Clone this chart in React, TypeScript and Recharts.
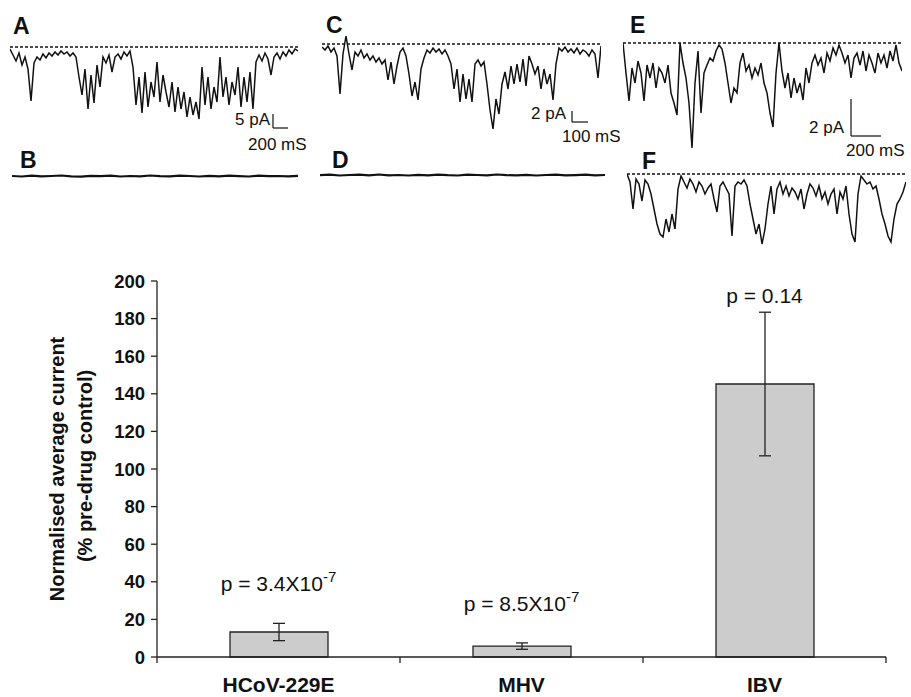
import { LineChart, Line, XAxis, YAxis, ReferenceLine, BarChart, Bar, ErrorBar, ReferenceDot } from "recharts"

const FONT = "'Liberation Sans', Arial, Helvetica, sans-serif"
const INK = "#111"

// single-channel traces: depth of the current below the closed level (dashed line)
const traceA = [
  2, 8, 14, 6, 18, 10, 22, 54, 16, 10, 13, 7, 11, 6, 9, 5, 8, 4, 7, 5, 9, 6, 10, 30, 48, 22, 62, 28, 56, 18,
  40, 10, 16, 8, 25, 10, 7, 12, 5, 9, 4, 20, 58, 30, 66, 25, 60, 35, 50, 15, 55, 28, 45, 60, 35, 65, 40, 62, 45, 70,
  50, 68, 55, 72, 20, 58, 30, 62, 40, 55, 10, 50, 30, 58, 35, 48, 20, 60, 30, 55, 25, 62, 15, 8, 14, 6, 12, 28, 10, 6,
  12, 5, 9, 3, 7, 2, 4,
]
const traceB = [
  0, 0.5, -0.3, 0.4, 0, -0.5, 0.3, 0.6, -0.2, 0.1, -0.4, 0.5, 0, 0.3, -0.5, 0.2, 0.4, -0.3, 0, 0.5, -0.2, 0.3, -0.4,
  0.1, 0.5, -0.3, 0.2, 0, 0.4, -0.2,
]
const traceC = [
  3, 6, 2, 8, 4, 12, 50, 10, -8, 10, 26, 8, 12, 6, 14, 10, 16, 12, 18, 14, 20, 16, 36, 18, 40, 22, 8, 4, 12, 30,
  52, 38, 56, 25, 14, 6, 9, 4, 8, 5, 10, 6, 12, 20, 45, 25, 58, 30, 55, 35, 58, 20, 16, 22, 18, 40, 66, 85, 55, 70,
  40, 28, 45, 22, 40, 20, 38, 15, 42, 12, 20, 30, 22, 45, 25, 40, 30, 56, 20, 4, 7, 3, 8, 5, 9, 4, 10, 6, 8, 12,
  6, 10, 34, 2,
]
const traceD = [
  0.2, -0.4, 0.5, 0, -0.3, 0.4, -0.5, 0.3, 0, 0.5, -0.2, 0.3, -0.4, 0.2, 0.5, -0.3, 0, 0.4, -0.5, 0.2, 0.3, -0.2,
  0.5, 0, -0.4, 0.3, 0.1, -0.3, 0.4, 0,
]
const traceE = [
  0, 30, 58, 25, 40, 18, 30, 58, 22, 35, 20, 45, 25, 30, 40, 22, 50, 60, 72, 0, 20, 35, 60, 105, 40, 8, 70, 30, 22, 15,
  18, 8, 2, 6, 20, 40, 60, 45, 50, 20, 10, 28, 22, 35, 25, 32, 20, 40, 50, 70, 84, 30, 0, 28, 45, 30, 55, 35, 50, 40,
  57, 25, 40, 20, 12, 22, 15, 30, 10, 18, 5, 12, 2, 10, 20, 12, 35, 15, 10, 22, 8, 28, 12, 20, 30, 10, 20, 12, 25, 8,
  18, 2, 20, 28,
]
const traceF = [
  0, 8, 35, 5, 10, 27, 6, 10, 20, 35, 50, 60, 63, 45, 58, 40, 55, 15, 2, 8, 14, 5, 10, 18, 8, 12, 20, 14, 10, 25,
  38, 12, 8, 14, 20, 62, 12, 8, 10, 6, 12, 30, 45, 60, 50, 70, 55, 30, 12, 40, 15, 8, 20, 12, 22, 14, 18, 25, 15, 35,
  20, 10, 14, 22, 12, 25, 18, 30, 20, 15, 40, 18, 25, 12, 40, 60, 68, 20, 2, 6, 10, 8, 15, 12, 25, 40, 50, 62, 68, 45,
  30, 25, 18, 8,
]

// bar chart
const categories = ["HCoV-229E", "MHV", "IBV"]
const meanCurrent = [13.3, 5.8, 145.2]
const semCurrent = [4.6, 1.7, 38.2]
const pMantissa = ["p = 3.4X10", "p = 8.5X10", "p = 0.14"]
const pExponent = ["-7", "-7", ""]
const yTicks = [0, 20, 40, 60, 80, 100, 120, 140, 160, 180, 200]

// where the p labels sit (in y-axis units)
const pLabelAt = [35, 24.5, 188.3]

const barData = categories.map((name, i) => ({ name, mean: meanCurrent[i], sem: semCurrent[i] }))

const PLOT_LEFT = 157
const PLOT_RIGHT = 25
const BAND = (911 - PLOT_LEFT - PLOT_RIGHT) / categories.length

function Trace({ values, left, top, width, lo, hi, dashed = true, thick = 1.5 }: any) {
  const data = values.map((v: number, i: number) => ({ t: i, v }))
  return (
    <div style={{ position: "absolute", left, top }}>
      <LineChart width={width} height={hi - lo} data={data} margin={{ top: 0, right: 0, bottom: 0, left: 0 }}>
        <XAxis dataKey="t" type="number" domain={[0, values.length - 1]} hide />
        <YAxis type="number" domain={[lo, hi]} reversed hide allowDataOverflow />
        {dashed && <ReferenceLine y={0} stroke={INK} strokeDasharray="3 2" strokeWidth={1.6} />}
        <Line dataKey="v" type="linear" stroke={INK} strokeWidth={thick} dot={false} isAnimationActive={false} />
      </LineChart>
    </div>
  )
}

function ScaleBar({ x, y, h, w, amp, time, ampX, timeX, timeY }: any) {
  return (
    <g>
      <line x1={x} x2={x} y1={y - h} y2={y} stroke={INK} strokeWidth={1.2} />
      <line x1={x} x2={x + w} y1={y} y2={y} stroke={INK} strokeWidth={1.2} />
      <text x={ampX} y={y - 3} textAnchor="end" fontSize={17}>{amp}</text>
      <text x={timeX} y={timeY} fontSize={17}>{time}</text>
    </g>
  )
}

function CatTick({ x, y, payload, index }: any) {
  const axisY = y - 8
  return (
    <g>
      {index === 0 && (
        <line x1={x - BAND / 2} x2={x - BAND / 2} y1={axisY} y2={axisY + 6} stroke="#222" strokeWidth={1.3} />
      )}
      <line x1={x + BAND / 2} x2={x + BAND / 2} y1={axisY} y2={axisY + 6} stroke="#222" strokeWidth={1.3} />
      <text x={x} y={axisY + 35} textAnchor="middle" fontSize={21} fontWeight="bold" fill={INK} fontFamily={FONT}>
        {payload.value}
      </text>
    </g>
  )
}

function YTitle({ viewBox }: any) {
  const cy = viewBox.y + viewBox.height / 2
  return (
    <g fontFamily={FONT} fontWeight="bold" fontSize={20} fill={INK}>
      <text x={64} y={cy} textAnchor="middle" transform={`rotate(-90 64 ${cy})`}>Normalised average current</text>
      <text x={92} y={cy - 3} textAnchor="middle" transform={`rotate(-90 92 ${cy - 3})`}>(% pre-drug control)</text>
    </g>
  )
}

export default function App() {
  return (
    <div style={{ position: "absolute", left: 0, top: 0, width: 911, height: 697, background: "#fff", fontFamily: FONT }}>
      <Trace values={traceA} left={10} top={43} width={288} lo={-4} hi={76} />
      <Trace values={traceB} left={12} top={172} width={286} lo={-4} hi={4} dashed={false} thick={2.2} />
      <Trace values={traceC} left={322} top={34} width={279} lo={-10} hi={90} />
      <Trace values={traceD} left={320} top={171} width={285} lo={-4} hi={4} dashed={false} thick={2.2} />
      <Trace values={traceE} left={623} top={40} width={279} lo={-3} hi={110} />
      <Trace values={traceF} left={627} top={171} width={279} lo={-3} hi={75} />

      <svg width={911} height={250} style={{ position: "absolute", left: 0, top: 0 }} fontFamily={FONT} fill={INK}>
        <g fontSize={23} fontWeight="bold">
          <text x={13} y={34}>A</text>
          <text x={20} y={168}>B</text>
          <text x={326} y={33}>C</text>
          <text x={332} y={168}>D</text>
          <text x={630} y={33}>E</text>
          <text x={642} y={169}>F</text>
        </g>
        <ScaleBar x={273} y={128} h={14} w={15} amp="5 pA" time="200 mS" ampX={270} timeX={248} timeY={150} />
        <ScaleBar x={572} y={122} h={11} w={16} amp="2 pA" time="100 mS" ampX={566} timeX={562} timeY={142} />
        <ScaleBar x={851} y={136} h={37} w={30} amp="2 pA" time="200 mS" ampX={844} timeX={846} timeY={156} />
      </svg>

      <div style={{ position: "absolute", left: 0, top: 250 }}>
        <BarChart width={911} height={447} data={barData} margin={{ top: 31, right: PLOT_RIGHT, bottom: 10, left: 97 }}>
          <XAxis
            dataKey="name"
            height={30}
            interval={0}
            tickLine={false}
            tickSize={6}
            tickMargin={2}
            axisLine={{ stroke: "#222", strokeWidth: 1.3 }}
            tick={<CatTick />}
          />
          <YAxis
            width={60}
            domain={[0, 200]}
            ticks={yTicks}
            interval={0}
            tickSize={6}
            tickMargin={6}
            axisLine={{ stroke: "#222", strokeWidth: 1.3 }}
            tickLine={{ stroke: "#222", strokeWidth: 1.3 }}
            tick={{ fontSize: 18.5, fontWeight: "bold", fill: INK, fontFamily: FONT }}
            label={{ content: (p: any) => <YTitle {...p} /> }}
          />
          <Bar dataKey="mean" barSize={98} fill="#cccccc" stroke="#222" strokeWidth={1.3} isAnimationActive={false}>
            <ErrorBar dataKey="sem" width={6} stroke="#222" strokeWidth={1.3} />
          </Bar>
          {categories.map((c, i) => (
            <ReferenceDot
              key={c}
              x={c}
              y={pLabelAt[i]}
              r={0}
              ifOverflow="visible"
              shape={(p: any) => (
                <text x={p.cx} y={p.cy} textAnchor="middle" fontSize={21} fill={INK} fontFamily={FONT}>
                  {pMantissa[i]}
                  {pExponent[i] && (
                    <tspan dy={-9} fontSize={15}>
                      {pExponent[i]}
                    </tspan>
                  )}
                </text>
              )}
            />
          ))}
        </BarChart>
      </div>
    </div>
  )
}
